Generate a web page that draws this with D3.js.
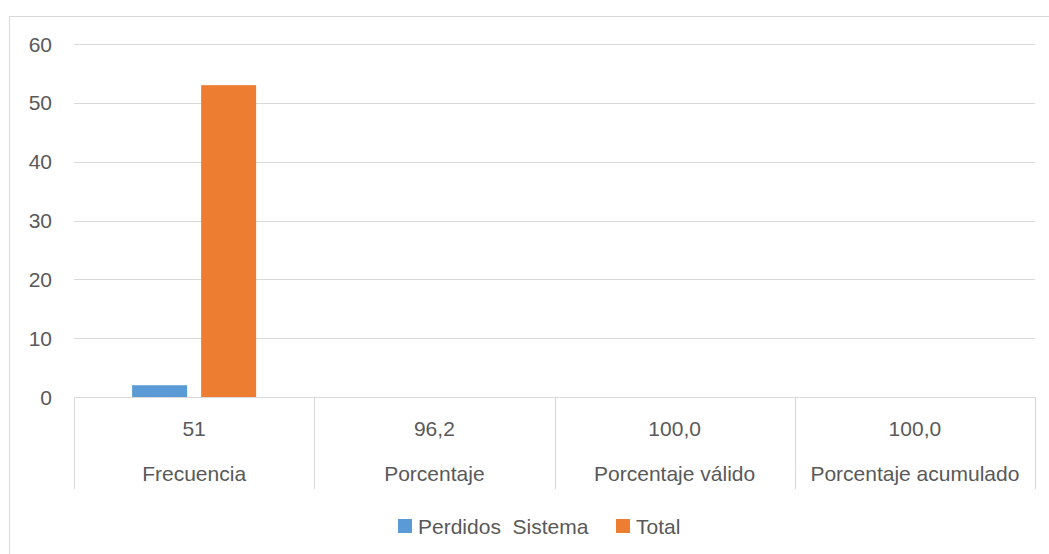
<!DOCTYPE html>
<html>
<head>
<meta charset="utf-8">
<script src="https://cdn.jsdelivr.net/npm/d3@7"></script>
<style>
  body { margin: 0; background: #fff; }
  text { font-family: "Liberation Sans", Arial, sans-serif; fill: #595959; }
</style>
</head>
<body>
<div id="chart"></div>
<script>
var categories = ["Frecuencia", "Porcentaje", "Porcentaje válido", "Porcentaje acumulado"]
var subLabels = ["51", "96,2", "100,0", "100,0"]
var seriesNames = ["Perdidos  Sistema", "Total"]
var perdidos = [2, null, null, null]
var total = [53, null, null, null]
var yTicks = [0, 10, 20, 30, 40, 50, 60]

const colors = ["#5B9BD5", "#ED7D31"]
const W = 1049, H = 554
const PLOT = { LEFT: 74, RIGHT: 1035, TOP: 44, BOTTOM: 397 }

const svg = d3.select("#chart").append("svg")
    .attr("width", W)
    .attr("height", H)

// chart border
svg.append("rect")
    .attr("x", 9.5).attr("y", 16.5)
    .attr("width", W + 10).attr("height", H + 10)
    .attr("fill", "none")
    .attr("stroke", "#D9D9D9")

const x0 = d3.scaleBand()
    .domain(categories)
    .range([PLOT.LEFT, PLOT.RIGHT])

const x1 = d3.scaleBand()
    .domain(seriesNames)
    .range([0, x0.bandwidth()])
    .paddingInner(0.203)
    .paddingOuter(0.842)

const y = d3.scaleLinear()
    .domain([0, 60])
    .range([PLOT.BOTTOM, PLOT.TOP])

// gridlines
svg.append("g").selectAll("line")
    .data(yTicks)
    .enter().append("line")
    .attr("x1", PLOT.LEFT).attr("x2", PLOT.RIGHT)
    .attr("y1", d => Math.round(y(d)) + 0.5)
    .attr("y2", d => Math.round(y(d)) + 0.5)
    .attr("stroke", "#D9D9D9")
    .attr("stroke-width", 1.2)

// y labels
svg.append("g").selectAll("text")
    .data(yTicks)
    .enter().append("text")
    .attr("x", 52)
    .attr("y", d => y(d))
    .attr("dy", "0.36em")
    .attr("text-anchor", "end")
    .style("font-size", "21px")
    .text(d => d)

// bars
var series = [perdidos, total]
series.forEach((vals, si) => {
    svg.append("g").selectAll("rect")
        .data(vals.map((v, i) => ({ cat: categories[i], v: v })).filter(d => d.v != null))
        .enter().append("rect")
        .attr("x", d => x0(d.cat) + x1(seriesNames[si]))
        .attr("width", x1.bandwidth())
        .attr("y", d => y(d.v))
        .attr("height", d => y(0) - y(d.v))
        .attr("fill", colors[si])
})

// category axis separators
var bounds = categories.map(c => x0(c)).concat([PLOT.RIGHT])
svg.append("g").selectAll("line")
    .data(bounds)
    .enter().append("line")
    .attr("x1", d => Math.round(d) + 0.5).attr("x2", d => Math.round(d) + 0.5)
    .attr("y1", PLOT.BOTTOM).attr("y2", 489)
    .attr("stroke", "#D9D9D9")
    .attr("stroke-width", 1.2)

const catG = svg.append("g")
catG.selectAll(".sub")
    .data(categories)
    .enter().append("text")
    .attr("class", "sub")
    .attr("x", d => x0(d) + x0.bandwidth() / 2)
    .attr("y", 428)
    .attr("dy", "0.36em")
    .attr("text-anchor", "middle")
    .style("font-size", "21px")
    .text((d, i) => subLabels[i])
catG.selectAll(".cat")
    .data(categories)
    .enter().append("text")
    .attr("class", "cat")
    .attr("x", d => x0(d) + x0.bandwidth() / 2)
    .attr("y", 473)
    .attr("dy", "0.36em")
    .attr("text-anchor", "middle")
    .style("font-size", "21px")
    .text(d => d)

// legend
var legendX = [398, 616]
const lg = svg.append("g")
seriesNames.forEach((name, i) => {
    lg.append("rect")
        .attr("x", legendX[i]).attr("y", 519)
        .attr("width", 14).attr("height", 14)
        .attr("fill", colors[i])
    lg.append("text")
        .attr("x", legendX[i] + 20)
        .attr("y", 526)
        .attr("dy", "0.36em")
        .style("font-size", "21px")
        .style("white-space", "pre")
        .text(name)
})
</script>
</body>
</html>
